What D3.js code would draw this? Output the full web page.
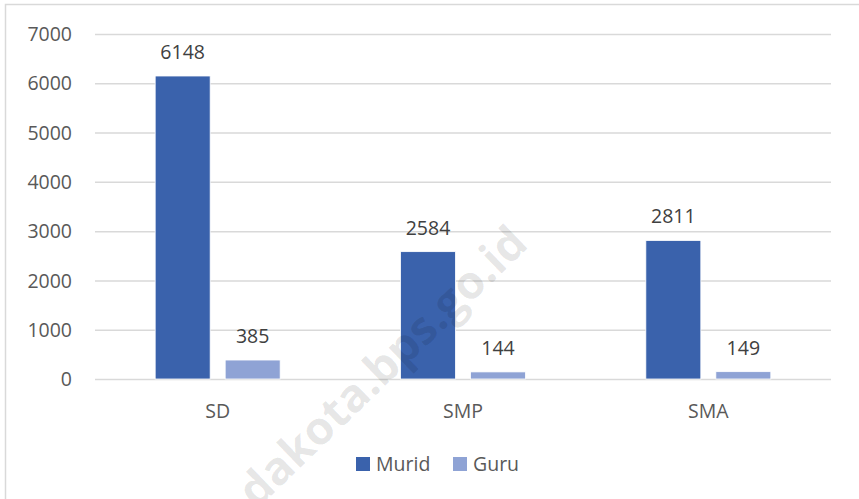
<!DOCTYPE html>
<html>
<head>
<meta charset="utf-8">
<script src="https://cdn.jsdelivr.net/npm/d3@7"></script>
<style>
  html, body { margin: 0; padding: 0; background: #fff; }
  svg { display: block; }
  text { font-family: "Open Sans", "Noto Sans", sans-serif; }
</style>
</head>
<body>
<svg id="chart" width="859" height="499"></svg>
<script>
const categories = ["SD", "SMP", "SMA"];
const seriesNames = ["Murid", "Guru"];
const murid = [6148, 2584, 2811];
const guru = [385, 144, 149];
const yTicks = [0, 1000, 2000, 3000, 4000, 5000, 6000, 7000];
const colors = ["#3A62AC", "#8FA3D5"];

const svg = d3.select("#chart");

// outer border
svg.append("rect").attr("x", 5.5).attr("y", 4.5).attr("width", 900).attr("height", 600)
  .attr("fill", "#fff").attr("stroke", "#D9D9D9").attr("stroke-width", 1.5);

const x0 = d3.scaleBand().domain(categories).range([95, 831]).paddingInner(0).paddingOuter(0);
const y = d3.scaleLinear().domain([0, 7000]).range([379, 34]);
const x1 = d3.scaleBand().domain(seriesNames).range([0, 125]).paddingInner(15 / 70);

// gridlines
const yAxis = d3.axisLeft(y).tickValues(yTicks).tickSize(-(831 - 95)).tickFormat(d3.format("d"));
const gAxis = svg.append("g").attr("transform", "translate(95,0)").call(yAxis);
gAxis.select(".domain").remove();
gAxis.selectAll(".tick line").attr("stroke", "#D9D9D9").attr("stroke-width", 1.5);
gAxis.selectAll(".tick text").attr("x", -23).attr("fill", "#595959")
  .style("font-size", "19.5px").attr("dy", "0.34em");

const data = categories.map((c, i) => ({ cat: c, values: [murid[i], guru[i]] }));

const groups = svg.append("g").selectAll("g").data(data).join("g")
  .attr("transform", d => `translate(${x0(d.cat) + x0.bandwidth() / 2 - 62.5},0)`);

groups.selectAll("rect").data(d => d.values.map((v, j) => ({ name: seriesNames[j], v, j })))
  .join("rect")
  .attr("x", d => x1(d.name))
  .attr("width", x1.bandwidth())
  .attr("y", d => y(d.v))
  .attr("height", d => y(0) - y(d.v))
  .attr("fill", d => colors[d.j])
  .attr("stroke", "#fff").attr("stroke-width", 0.8);

groups.selectAll("text.lbl").data(d => d.values.map((v, j) => ({ name: seriesNames[j], v, j })))
  .join("text").attr("class", "lbl")
  .attr("x", d => x1(d.name) + x1.bandwidth() / 2)
  .attr("y", d => y(d.v) - 17)
  .attr("text-anchor", "middle")
  .attr("fill", "#404040")
  .style("font-size", "19.5px")
  .text(d => d.v);

// category axis
const xAxis = d3.axisBottom(x0).tickSize(0);
const gx = svg.append("g").attr("transform", "translate(0,379)").call(xAxis);
gx.select(".domain").remove();
gx.selectAll(".tick text").attr("y", 39).attr("dy", 0).attr("fill", "#595959").style("font-size", "19.5px");

// legend
const legendX = [356, 453];
const leg = svg.append("g").selectAll("g").data(seriesNames).join("g")
  .attr("transform", (d, i) => `translate(${legendX[i]},457)`);
leg.append("rect").attr("width", 14).attr("height", 14).attr("fill", (d, i) => colors[i]);
leg.append("text").attr("x", 20).attr("y", 14).attr("fill", "#595959")
  .style("font-size", "19.5px").text(d => d);

// watermark (on top)
svg.append("text")
  .attr("transform", "translate(530,246) rotate(-44)")
  .attr("text-anchor", "end")
  .attr("fill", "#000").attr("fill-opacity", 0.1)
  .style("font-size", "46px").style("font-weight", "bold")
  .text("dakota.bps.go.id");
</script>
</body>
</html>
